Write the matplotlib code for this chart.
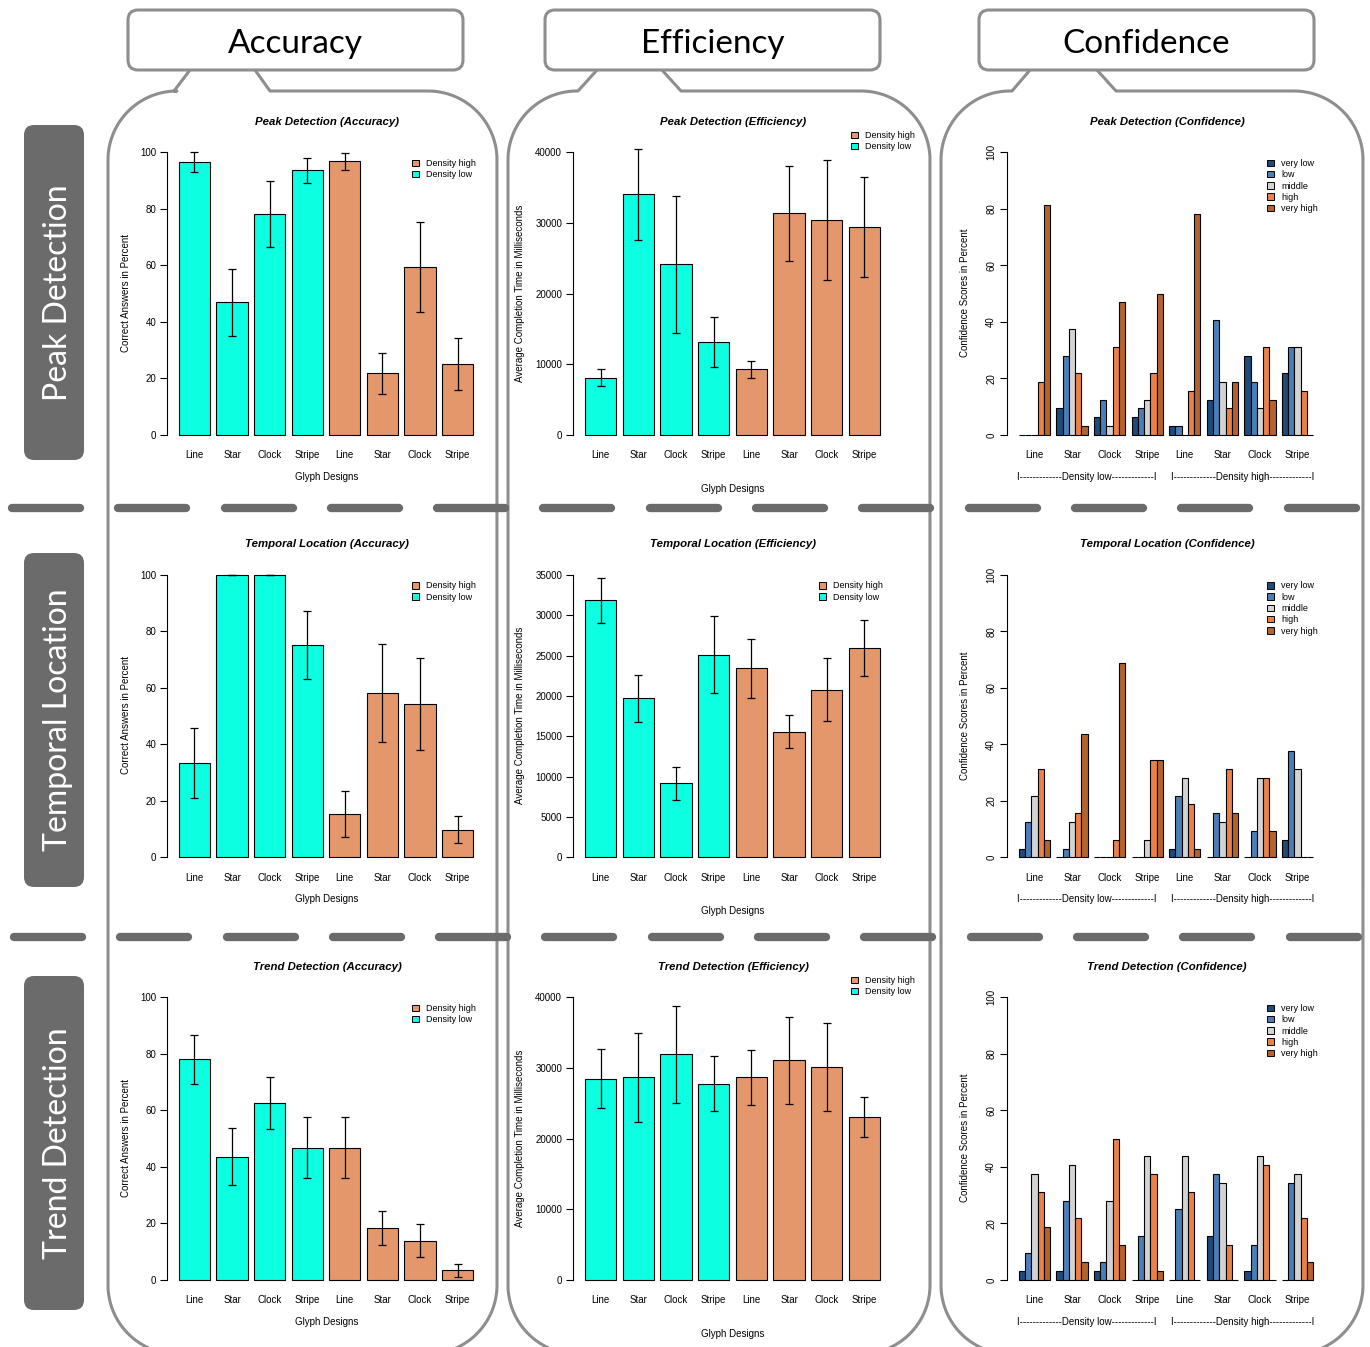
import matplotlib
matplotlib.use("Agg")
import matplotlib.pyplot as plt
import numpy as np
from matplotlib.patches import FancyBboxPatch, Patch

plt.rcParams['font.family'] = ['Liberation Sans', 'DejaVu Sans']

# ---- data ----
designs = ['Line', 'Star', 'Clock', 'Stripe', 'Line', 'Star', 'Clock', 'Stripe']
conf_levels = ['very low', 'low', 'middle', 'high', 'very high']

# first four = Density low, last four = Density high
peak_acc = [96.6, 46.9, 78.2, 93.6, 96.9, 21.9, 59.4, 25.0]
peak_acc_err = [3.4, 11.75, 11.75, 4.45, 3.0, 7.25, 16.0, 9.25]
temp_acc = [33.3, 100, 100, 75.1, 15.5, 58.3, 54.2, 9.9]
temp_acc_err = [12.4, 0, 0, 12.0, 8.1, 17.3, 16.3, 4.8]
trend_acc = [78.1, 43.6, 62.5, 46.8, 46.8, 18.3, 13.9, 3.4]
trend_acc_err = [8.6, 10.1, 9.2, 10.8, 10.8, 6.0, 5.8, 2.2]

peak_eff = [8100, 34060, 24150, 13110, 9290, 31370, 30380, 29390]
peak_eff_err = [1200, 6450, 9670, 3540, 1250, 6700, 8470, 7050]
temp_eff = [31820, 19710, 9170, 25120, 23430, 15580, 20740, 25950]
temp_eff_err = [2790, 2890, 2090, 4770, 3640, 2070, 3900, 3470]
trend_eff = [28490, 28680, 31930, 27780, 28680, 31090, 30090, 23070]
trend_eff_err = [4150, 6340, 6860, 3870, 3920, 6150, 6230, 2880]

# confidence: per design, shares of very low / low / middle / high / very high
peak_conf = [[0, 0, 0, 18.75, 81.25], [9.4, 28.1, 37.5, 21.9, 3.1],
             [6.25, 12.5, 3.1, 31.25, 46.9], [6.25, 9.4, 12.5, 21.9, 50.0],
             [3.1, 3.1, 0, 15.6, 78.1], [12.5, 40.6, 18.75, 9.4, 18.75],
             [28.1, 18.75, 9.4, 31.25, 12.5], [21.9, 31.25, 31.25, 15.6, 0]]
temp_conf = [[3.1, 12.5, 21.9, 31.25, 6.25], [0, 3.1, 12.5, 15.6, 43.75],
             [0, 0, 0, 6.25, 68.75], [0, 0, 6.25, 34.4, 34.4],
             [3.1, 21.9, 28.1, 18.75, 3.1], [0, 15.6, 12.5, 31.25, 15.6],
             [0, 9.4, 28.1, 28.1, 9.4], [6.25, 37.5, 31.25, 0, 0]]
trend_conf = [[3.1, 9.4, 37.5, 31.25, 18.75], [3.1, 28.1, 40.6, 21.9, 6.25],
              [3.1, 6.25, 28.1, 50.0, 12.5], [0, 15.6, 43.75, 37.5, 3.1],
              [0, 25.0, 43.75, 31.25, 0], [15.6, 37.5, 34.4, 12.5, 0],
              [3.1, 12.5, 43.75, 40.6, 0], [0, 34.4, 37.5, 21.9, 6.25]]

row_names = ['Peak Detection', 'Temporal Location', 'Trend Detection']
col_names = ['Accuracy', 'Efficiency', 'Confidence']

c_low = '#0cffe0'
c_high = '#e4976a'
conf_colors = ['#1c4b7c', '#4a7eb6', '#d3d3d3', '#ec8046', '#b4632d']

W, H = 1370, 1347
fig = plt.figure(figsize=(W / 100, H / 100), dpi=100)

def fx(x):
    return x / W

def fy(y):
    return 1 - y / H

# ---- decoration layer (pixel coordinates) ----
bg = fig.add_axes([0, 0, 1, 1])
bg.set_xlim(0, W)
bg.set_ylim(H, 0)
bg.axis('off')

outline = '#8e8e8e'

def bubble(x0, x1, p0, p1, q0, q1, top=91, bottom=1354, r=69):
    def arc(cx, cy, a0, a1):
        t = np.radians(np.linspace(a0, a1, 40))
        return list(cx + r * np.cos(t)), list(cy + r * np.sin(t))
    xs, ys = [q0, p0], [70, top]
    for cx, cy, a0, a1 in [(x0 + r, top + r, -90, -180), (x0 + r, bottom - r, 180, 90),
                           (x1 - r, bottom - r, 90, 0), (x1 - r, top + r, 0, -90)]:
        ax_, ay_ = arc(cx, cy, a0, a1)
        xs += ax_
        ys += ay_
    xs += [p1, q1]
    ys += [top, 70]
    bg.plot(xs, ys, color=outline, lw=2.2, solid_capstyle='round', zorder=1)

bubble(108, 497, 174, 270, 190, 255)
bubble(508, 930, 578, 681, 597, 662)
bubble(941, 1363, 1012, 1116, 1030, 1097)

for (x0, x1), name in zip([(128, 463), (545, 880), (979, 1314)], col_names):
    bg.add_patch(FancyBboxPatch((x0, 10), x1 - x0, 60, boxstyle='round,pad=0,rounding_size=10',
                                facecolor='white', edgecolor=outline, lw=2.2, zorder=2))
    bg.text((x0 + x1) / 2, 44, name, ha='center', va='center', fontsize=24,
            family=['Lato', 'DejaVu Sans'], zorder=3)

for (y0, y1), name in zip([(125, 460), (553, 887), (976, 1310)], row_names):
    bg.add_patch(FancyBboxPatch((24, y0), 60, y1 - y0, boxstyle='round,pad=0,rounding_size=10',
                                facecolor='#6b6b6b', edgecolor='none', zorder=2))
    bg.text(58, (y0 + y1) / 2, name, ha='center', va='center', rotation=90, fontsize=23,
            color='white', family=['Lato', 'DejaVu Sans'], zorder=3)

for y, start in [(508, 8), (937, 10)]:
    for i in range(13):
        a = start + i * 106.3
        bg.plot([a + 4, a + 72], [y, y], color='#6b6b6b', lw=6, solid_capstyle='round', zorder=4)

# ---- panels ----
bar_x = 0.7 + 1.2 * np.arange(8)
bar_cols = [c_low] * 4 + [c_high] * 4
row_off = [0, 422.5, 845]
col_left = [167, 573, 1007]
col_right = [485, 892, 1325]
col_mid = [327, 733, 1167]
ylab_x = [126, 520, 965]

def make_axes(c, r):
    off = row_off[r]
    top, bottom = 141 + off, 446.3 + off
    ax = fig.add_axes([fx(col_left[c]), fy(bottom), fx(col_right[c] - col_left[c]), (bottom - top) / H])
    ax.patch.set_alpha(0)
    for s in ['top', 'right', 'bottom']:
        ax.spines[s].set_visible(False)
    ax.spines['left'].set_linewidth(0.8)
    return ax

def bar_panel(c, r, vals, errs, ymax, ystep, title, ylab, legend_xy):
    ax = make_axes(c, r)
    off = row_off[r]
    ax.bar(bar_x, vals, width=1, color=bar_cols, edgecolor='black', linewidth=0.8)
    ax.errorbar(bar_x, vals, yerr=errs, fmt='none', ecolor='black', elinewidth=0.9,
                capsize=3, capthick=0.9)
    ax.set_xlim(-0.176, 9.976)
    ax.set_ylim(-0.04 * ymax, 1.04 * ymax)
    ax.spines['left'].set_bounds(0, ymax)
    ax.set_yticks(np.arange(0, ymax + 1, ystep))
    ax.set_xticks(bar_x)
    ax.set_xticklabels(designs)
    ax.tick_params(axis='y', length=4.8, width=0.8, labelsize=7, pad=3)
    ax.tick_params(axis='x', length=0, labelsize=7, pad=3)
    fig.text(fx(col_mid[c]), fy(122 + off), title, ha='center', va='center',
             fontsize=8.2, fontweight='bold', style='italic')
    xl_y = 477 if c == 0 else 489
    fig.text(fx(col_mid[c]), fy(xl_y + off), 'Glyph Designs', ha='center', va='center', fontsize=7)
    fig.text(fx(ylab_x[c]), fy(293 + off), ylab, ha='center', va='center', rotation=90, fontsize=7)
    handles = [Patch(facecolor=c_high, edgecolor='black', lw=0.7),
               Patch(facecolor=c_low, edgecolor='black', lw=0.7)]
    ax.legend(handles, ['Density high', 'Density low'], loc='upper left',
              bbox_to_anchor=(fx(legend_xy[0]), fy(legend_xy[1] + off)),
              bbox_transform=fig.transFigure, frameon=False, fontsize=6.5,
              handlelength=0.75, handleheight=0.75, handletextpad=0.8,
              labelspacing=0.25, borderpad=0, borderaxespad=0)

def conf_panel(r, table, title):
    ax = make_axes(2, r)
    off = row_off[r]
    for g, group in enumerate(table):
        xs = 1.5 + 6 * g + np.arange(5)
        ax.bar(xs, group, width=1, color=conf_colors, edgecolor='black', linewidth=0.8)
    ax.set_xlim(-0.88, 49.88)
    ax.set_ylim(-4, 104)
    ax.spines['left'].set_bounds(0, 100)
    ax.set_yticks(np.arange(0, 101, 20))
    ax.set_xticks(3.5 + 6 * np.arange(8))
    ax.set_xticklabels(designs)
    ax.tick_params(axis='y', length=4.8, width=0.8, labelsize=7, pad=3)
    ax.tick_params(axis='x', length=0, labelsize=7, pad=3)
    for lab in ax.get_yticklabels():
        lab.set_rotation(90)
        lab.set_va('center')
    fig.text(fx(col_mid[2]), fy(122 + off), title, ha='center', va='center',
             fontsize=8.2, fontweight='bold', style='italic')
    fig.text(fx(ylab_x[2]), fy(293 + off), 'Confidence Scores in Percent', ha='center',
             va='center', rotation=90, fontsize=7)
    dash = '-' * 13
    fig.text(fx(1087), fy(477 + off), 'I' + dash + 'Density low' + dash + 'I',
             ha='center', va='center', fontsize=7)
    fig.text(fx(1243), fy(477 + off), 'I' + dash + 'Density high' + dash + 'I',
             ha='center', va='center', fontsize=7)
    handles = [Patch(facecolor=cc, edgecolor='black', lw=0.7) for cc in conf_colors]
    ax.legend(handles, conf_levels, loc='upper left',
              bbox_to_anchor=(fx(1267), fy(159 + off)),
              bbox_transform=fig.transFigure, frameon=False, fontsize=6.5,
              handlelength=0.75, handleheight=0.75, handletextpad=0.8,
              labelspacing=0.25, borderpad=0, borderaxespad=0)

acc_lab = 'Correct Answers in Percent'
eff_lab = 'Average Completion Time in Milliseconds'

bar_panel(0, 0, peak_acc, peak_acc_err, 100, 20, 'Peak Detection (Accuracy)', acc_lab, (412, 159))
bar_panel(0, 1, temp_acc, temp_acc_err, 100, 20, 'Temporal Location (Accuracy)', acc_lab, (412, 159))
bar_panel(0, 2, trend_acc, trend_acc_err, 100, 20, 'Trend Detection (Accuracy)', acc_lab, (412, 159))
bar_panel(1, 0, peak_eff, peak_eff_err, 40000, 10000, 'Peak Detection (Efficiency)', eff_lab, (851, 131))
bar_panel(1, 1, temp_eff, temp_eff_err, 35000, 5000, 'Temporal Location (Efficiency)', eff_lab, (819, 159))
bar_panel(1, 2, trend_eff, trend_eff_err, 40000, 10000, 'Trend Detection (Efficiency)', eff_lab, (851, 131))
conf_panel(0, peak_conf, 'Peak Detection (Confidence)')
conf_panel(1, temp_conf, 'Temporal Location (Confidence)')
conf_panel(2, trend_conf, 'Trend Detection (Confidence)')

fig.savefig('out.png', dpi=100)
